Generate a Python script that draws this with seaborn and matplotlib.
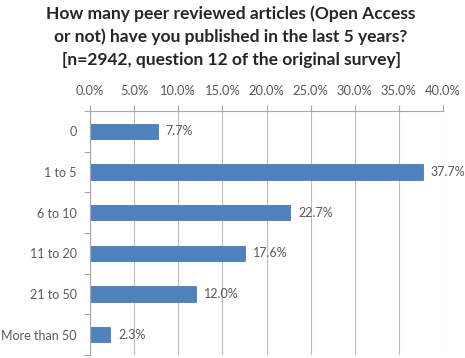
import matplotlib
matplotlib.use("Agg")
import matplotlib.pyplot as plt
import seaborn as sns
from matplotlib.ticker import FuncFormatter, FixedLocator

# survey answers, question 12
categories = ["0", "1 to 5", "6 to 10", "11 to 20", "21 to 50", "More than 50"]
shares = [7.7, 37.7, 22.7, 17.6, 12.0, 2.3]
title = ("How many peer reviewed articles (Open Access\n"
         "or not) have you published in the last 5 years?\n"
         "[n=2942, question 12 of the original survey]")

sns.set_style("white")
plt.rcParams["font.family"] = ["Lato", "DejaVu Sans"]

fig = plt.figure(figsize=(4.65, 3.58), dpi=100)
ax = fig.add_axes([90 / 465, 1 - 355 / 358, 353 / 465, 244 / 358])

sns.barplot(x=shares, y=categories, orient="h", color="#4F81BD",
            edgecolor="#4A7EBB", linewidth=0.6, width=0.38, saturation=1, ax=ax)

ax.set_xlim(0, 40)
ax.set_ylim(5.5, -0.5)
ax.xaxis.set_major_locator(FixedLocator([0, 5, 10, 15, 20, 25, 30, 35, 40]))
ax.xaxis.set_major_formatter(FuncFormatter(lambda v, p: f"{v:.1f}%"))
ax.xaxis.tick_top()
ax.grid(axis="x", color="#BDBDBD", linewidth=0.8)
ax.set_axisbelow(True)

for side in ["right", "bottom"]:
    ax.spines[side].set_visible(False)
for side in ["top", "left"]:
    ax.spines[side].set_color("#A6A6A6")
    ax.spines[side].set_linewidth(0.8)

ax.tick_params(axis="x", which="major", top=True, direction="out", length=4,
               width=0.8, color="#A6A6A6", pad=6, labelsize=9.3, labelcolor="#595959")
ax.tick_params(axis="y", which="major", left=False, length=0, pad=9.5,
               labelsize=9, labelcolor="#595959")
ax.yaxis.set_minor_locator(FixedLocator([i - 0.5 for i in range(len(categories) + 1)]))
ax.tick_params(axis="y", which="minor", left=True, direction="out", length=4,
               width=0.8, color="#A6A6A6")

for i, v in enumerate(shares):
    ax.annotate(f"{v:.1f}%", (v, i), xytext=(5.5, 0), textcoords="offset points",
                va="center", ha="left", fontsize=9, color="#595959")

ax.set_xlabel("")
ax.set_ylabel("")
fig.text(0.497, 0.985, title, ha="center", va="top", fontsize=12.5,
         fontweight="bold", color="#262626", linespacing=1.5)

fig.savefig("out.png", dpi=100)
